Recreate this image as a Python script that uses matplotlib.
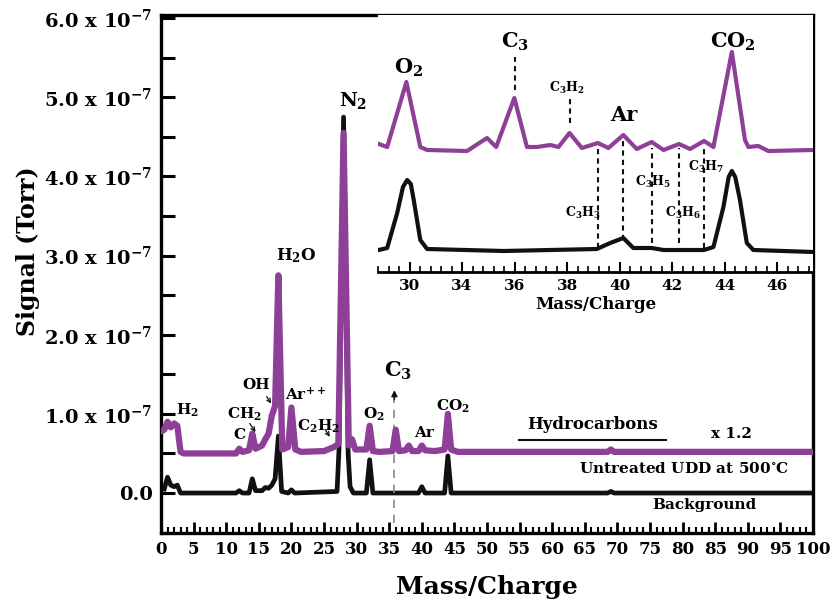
import numpy as np
import matplotlib
matplotlib.use("Agg")
import matplotlib.pyplot as plt
from matplotlib.ticker import MultipleLocator, FixedLocator, FuncFormatter

plt.rcParams['font.family'] = ['DejaVu Serif']
plt.rcParams['font.weight'] = 'bold'
plt.rcParams['axes.labelweight'] = 'bold'
plt.rcParams['mathtext.fontset'] = 'dejavuserif'
plt.rcParams['mathtext.default'] = 'bf'

PURPLE = '#8e3f98'
BLACK = '#111111'

# ---- full scan, signal in units of 1e-7 Torr ----
# background scan
bg_mz = [0.5, 1.0, 1.5, 2.0, 2.5, 3.0, 11.5, 12.0, 12.5, 13.5, 14.0, 14.5, 15.5, 16.0,
         16.5, 17.0, 17.5, 18.0, 18.5, 19.5, 20.0, 20.5, 27.0, 27.3, 28.0, 28.7, 29.0,
         29.5, 31.5, 32.0, 32.5, 39.5, 40.0, 40.5, 43.5, 44.0, 44.5, 68.5, 69.0, 69.5, 100.0]
bg_sig = [0.05, 0.20, 0.10, 0.08, 0.10, 0.00, 0.00, 0.03, 0.00, 0.00, 0.18, 0.03, 0.03, 0.07,
          0.06, 0.10, 0.18, 0.72, 0.02, 0.00, 0.04, 0.00, 0.02, 0.55, 4.75, 0.50, 0.08,
          0.00, 0.00, 0.42, 0.00, 0.00, 0.08, 0.00, 0.00, 0.47, 0.00, 0.00, 0.02, 0.00, 0.00]

# untreated UDD at 500 C (x 1.2), drawn shifted up
udd_mz = [0.0, 0.5, 1.0, 1.5, 2.0, 2.5, 3.0, 3.5, 11.5, 12.0, 12.5, 13.5, 14.0, 14.5, 15.5,
          16.0, 16.5, 17.0, 17.5, 18.0, 18.6, 19.5, 20.0, 20.6, 21.5, 25.0, 26.5, 27.2, 28.0,
          28.8, 29.3, 29.8, 31.5, 32.0, 32.5, 33.5, 35.5, 36.0, 36.5, 37.5, 38.0, 38.5, 39.5,
          40.0, 40.5, 42.0, 43.5, 44.0, 44.5, 45.5, 55.0, 68.5, 69.0, 69.5, 100.0]
udd_sig = [0.28, 0.30, 0.40, 0.33, 0.38, 0.35, 0.02, 0.00, 0.00, 0.06, 0.02, 0.04, 0.25, 0.06, 0.10,
           0.18, 0.25, 0.48, 0.60, 2.25, 0.05, 0.08, 0.58, 0.05, 0.02, 0.03, 0.08, 0.12, 4.05,
           0.10, 0.18, 0.05, 0.05, 0.35, 0.03, 0.02, 0.03, 0.30, 0.03, 0.04, 0.10, 0.03, 0.03,
           0.10, 0.04, 0.03, 0.05, 0.50, 0.05, 0.02, 0.02, 0.02, 0.05, 0.02, 0.02]
udd_offset = 0.5

# ---- zoomed region m/z 31-47 (arbitrary units) ----
ins_bg_mz = [30.83, 31.15, 31.53, 31.75, 31.91, 32.05, 32.16, 32.41, 32.67, 35.58, 39.13, 39.64,
             40.14, 40.52, 41.22, 41.67, 43.21, 43.57, 43.95, 44.15, 44.27, 44.40, 44.58, 44.84,
             45.09, 47.37]
ins_bg_sig = [22, 24, 59, 85, 92, 88, 72, 32, 23, 21, 23, 29,
              34, 24, 24, 22, 22, 25, 65, 95, 101, 95, 72, 29,
              22, 20]
ins_udd_mz = [30.83, 31.15, 31.88, 32.41, 32.67, 34.19, 34.95, 35.30, 35.99, 36.47, 36.85,
              37.36, 37.67, 38.09, 38.56, 39.17, 39.57, 40.14, 40.65, 41.22, 41.67, 42.26,
              42.68, 43.21, 43.57, 44.27, 44.77, 44.90, 45.28, 45.66, 47.37]
ins_udd_sig = [128, 125, 190, 125, 122, 121, 134, 125, 174, 125, 125,
               127, 125, 139, 124, 129, 124, 137, 123, 130, 122, 128,
               123, 131, 125, 220, 132, 125, 126, 121, 122]
ins_ticks = [32, 34, 36, 38, 40, 42, 44, 46]
ins_ticklabels = ['30', '34', '36', '38', '40', '42', '44', '46']

y_ticks = [0, 1, 2, 3, 4, 5, 6]

fig = plt.figure(figsize=(8.32, 6.04), dpi=100)
ax = fig.add_axes([161 / 832, 1 - 533 / 604, 652 / 832, 518 / 604])

ax.plot(bg_mz, bg_sig, color=BLACK, lw=3.4, solid_joinstyle='round', zorder=2)
ax.plot(udd_mz, np.array(udd_sig) + udd_offset, color=PURPLE, lw=4.5,
        solid_joinstyle='round', zorder=3)

ax.set_xlim(0, 100)
ax.set_ylim(-0.505, 6.04)
ax.xaxis.set_major_locator(MultipleLocator(5))
ax.xaxis.set_minor_locator(MultipleLocator(1))
ax.yaxis.set_major_locator(FixedLocator(y_ticks))
ax.yaxis.set_minor_locator(MultipleLocator(0.5))
ax.yaxis.set_major_formatter(FuncFormatter(
    lambda v, p: '0.0' if v == 0 else r'%.1f x 10$^{-7}$' % v))
ax.tick_params(axis='x', which='major', direction='in', length=8, width=2, labelsize=12, pad=6)
ax.tick_params(axis='x', which='minor', direction='in', length=4, width=1.5)
ax.tick_params(axis='y', which='both', direction='in', length=10, width=2.2, labelsize=14, pad=6)
for s in ax.spines.values():
    s.set_linewidth(2.4)
ax.set_xlabel('Mass/Charge', fontsize=18, labelpad=12)
ax.set_ylabel('Signal (Torr)', fontsize=17)
ax.yaxis.set_label_coords(-0.186, 0.545)

# peak labels on the full scan
ax.text(2.3, 1.05, 'H$_2$', fontsize=11, ha='left', va='center')
ax.text(12.0, 0.73, 'C', fontsize=11, ha='center', va='center')
ax.text(12.8, 1.00, 'CH$_2$', fontsize=11, ha='center', va='center')
ax.text(14.6, 1.37, 'OH', fontsize=11, ha='center', va='center')
ax.text(20.8, 3.00, 'H$_2$O', fontsize=12, ha='center', va='center')
ax.text(22.1, 1.24, 'Ar$^{++}$', fontsize=11, ha='center', va='center')
ax.text(24.1, 0.84, 'C$_2$H$_2$', fontsize=11, ha='center', va='center')
ax.text(29.5, 4.96, 'N$_2$', fontsize=14, ha='center', va='center')
ax.text(32.6, 1.00, 'O$_2$', fontsize=11, ha='center', va='center')
ax.text(36.4, 1.55, 'C$_3$', fontsize=15, ha='center', va='center')
ax.text(40.4, 0.76, 'Ar', fontsize=11, ha='center', va='center')
ax.text(44.7, 1.10, 'CO$_2$', fontsize=11, ha='center', va='center')
ax.text(66.2, 0.87, 'Hydrocarbons', fontsize=12, ha='center', va='center')
ax.plot([54.9, 77.4], [0.67, 0.67], color=BLACK, lw=1.5)
ax.text(87.5, 0.75, 'x 1.2', fontsize=11, ha='center', va='center')
ax.text(80.2, 0.30, 'Untreated UDD at 500$^{\\circ}$C', fontsize=11, ha='center', va='center')
ax.text(83.4, -0.15, 'Background', fontsize=11, ha='center', va='center')

arrow = dict(arrowstyle='->', color=BLACK, lw=0.9, shrinkA=0, shrinkB=0, mutation_scale=7)
ax.annotate('', xy=(14.5, 0.77), xytext=(13.6, 0.88), arrowprops=arrow)
ax.annotate('', xy=(16.9, 1.13), xytext=(16.2, 1.22), arrowprops=arrow)
ax.annotate('', xy=(25.9, 0.71), xytext=(25.2, 0.80), arrowprops=arrow)

# C3 marker line
ax.plot([35.8, 35.8], [-0.38, 1.22], color='#888888', lw=1.2, ls=(0, (5, 4)))
ax.annotate('', xy=(35.8, 1.30), xytext=(35.8, 1.18),
            arrowprops=dict(arrowstyle='-|>', color=BLACK, lw=1, mutation_scale=9,
                            shrinkA=0, shrinkB=0))

# ---- inset ----
ins = fig.add_axes([378 / 832, 1 - 272 / 604, 435 / 832, 257 / 604])
ins.set_facecolor('white')
ins.plot(ins_bg_mz, ins_bg_sig, color=BLACK, lw=3, solid_joinstyle='round')
ins.plot(ins_udd_mz, ins_udd_sig, color=PURPLE, lw=3, solid_joinstyle='round')
ins.set_xlim(30.8, 47.36)
ins.set_ylim(0, 257)
ins.set_xticks(ins_ticks)
ins.set_xticklabels(ins_ticklabels)
ins.xaxis.set_minor_locator(MultipleLocator(0.4))
ins.set_yticks([])
for side in ['left', 'top', 'right']:
    ins.spines[side].set_visible(False)
ins.spines['bottom'].set_linewidth(2)
ins.tick_params(axis='x', which='major', direction='in', length=7, width=1.5, labelsize=11, pad=5)
ins.tick_params(axis='x', which='minor', direction='in', length=4, width=1.2)
ins.set_xlabel('Mass/Charge', fontsize=12, labelpad=2)

dash = dict(color=BLACK, lw=1.5, ls=(0, (2.5, 2)))
ins.plot([36.0, 36.0], [182, 215], **dash)
ins.plot([38.1, 38.1], [149, 174], **dash)
ins.plot([39.17, 39.17], [24, 125], **dash)
ins.plot([40.12, 40.12], [32, 135], **dash)
ins.plot([41.22, 41.22], [29, 124], **dash)
ins.plot([42.26, 42.26], [29, 124], **dash)
ins.plot([43.21, 43.21], [24, 124], **dash)

ins.text(31.95, 204, 'O$_2$', fontsize=15, ha='center', va='center')
ins.text(36.0, 230, 'C$_3$', fontsize=15, ha='center', va='center')
ins.text(38.0, 184, 'C$_3$H$_2$', fontsize=9, ha='center', va='center')
ins.text(40.15, 157, 'Ar', fontsize=15, ha='center', va='center')
ins.text(44.3, 230, 'CO$_2$', fontsize=15, ha='center', va='center')
ins.text(38.6, 59, 'C$_3$H$_3$', fontsize=9, ha='center', va='center')
ins.text(41.25, 90, 'C$_3$H$_5$', fontsize=9, ha='center', va='center')
ins.text(42.4, 59, 'C$_3$H$_6$', fontsize=9, ha='center', va='center')
ins.text(43.3, 105, 'C$_3$H$_7$', fontsize=9, ha='center', va='center')

fig.savefig('out.png', dpi=100)
